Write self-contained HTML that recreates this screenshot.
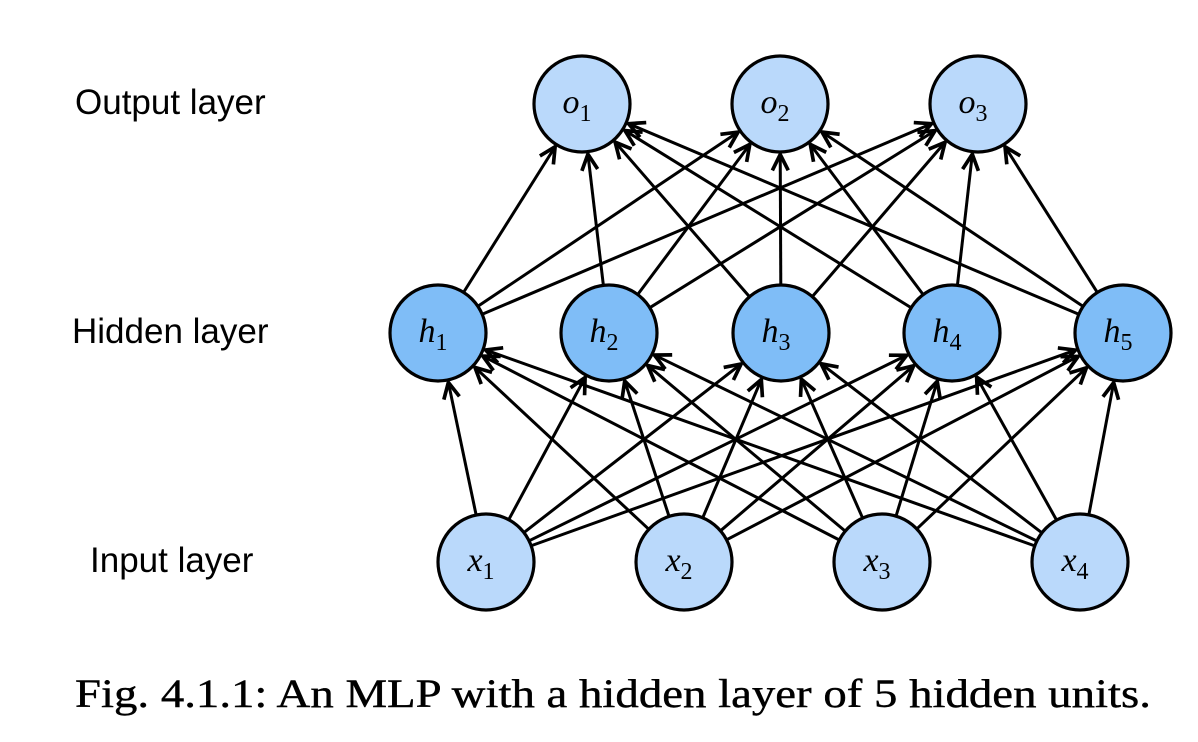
<!DOCTYPE html>
<html><head><meta charset="utf-8"><style>
html,body{margin:0;padding:0;background:#fff;}
body{width:1198px;height:742px;overflow:hidden;position:relative;}
.lbl{position:absolute;font-family:"Liberation Sans",sans-serif;font-size:35px;color:#000;line-height:40px;}
.cap{position:absolute;left:75px;top:670px;white-space:nowrap;font-family:"Liberation Serif","DejaVu Serif",serif;font-size:40px;color:#000;transform-origin:0 0;transform:scaleX(1.17);-webkit-text-stroke:0.4px #000;}
</style></head><body>
<div class="lbl" style="left:75px;top:83px">Output layer</div>
<div class="lbl" style="left:72px;top:312px">Hidden layer</div>
<div class="lbl" style="left:90px;top:541px">Input layer</div>
<svg id="s" width="1198" height="742" style="position:absolute;left:0;top:0">
<defs><marker id="a" markerWidth="22" markerHeight="22" refX="0" refY="0" viewBox="-15 -9 17 18" orient="auto" markerUnits="userSpaceOnUse">
<path d="M-13,-6.5 L0,0 L-13,6.5" fill="none" stroke="#000" stroke-width="3"/></marker></defs>
<g id="lines"></g>
<g id="nodes" stroke="#000" stroke-width="3.2">
<circle cx="582" cy="104" r="48" fill="#bad9fb"/>
<circle cx="780" cy="104" r="48" fill="#bad9fb"/>
<circle cx="978" cy="104" r="48" fill="#bad9fb"/>
<circle cx="438" cy="333" r="48" fill="#7fbdf7"/>
<circle cx="609" cy="333" r="48" fill="#7fbdf7"/>
<circle cx="781" cy="333" r="48" fill="#7fbdf7"/>
<circle cx="952" cy="333" r="48" fill="#7fbdf7"/>
<circle cx="1123" cy="333" r="48" fill="#7fbdf7"/>
<circle cx="486" cy="562" r="48" fill="#bad9fb"/>
<circle cx="684" cy="562" r="48" fill="#bad9fb"/>
<circle cx="882" cy="562" r="48" fill="#bad9fb"/>
<circle cx="1080" cy="562" r="48" fill="#bad9fb"/>
</g>
<g font-family="Liberation Serif,serif" font-style="italic" font-size="34" text-anchor="middle">
<text x="577" y="113">o<tspan font-style="normal" font-size="24" dy="8">1</tspan></text>
<text x="775" y="113">o<tspan font-style="normal" font-size="24" dy="8">2</tspan></text>
<text x="973" y="113">o<tspan font-style="normal" font-size="24" dy="8">3</tspan></text>
<text x="433" y="342">h<tspan font-style="normal" font-size="24" dy="8">1</tspan></text>
<text x="604" y="342">h<tspan font-style="normal" font-size="24" dy="8">2</tspan></text>
<text x="776" y="342">h<tspan font-style="normal" font-size="24" dy="8">3</tspan></text>
<text x="947" y="342">h<tspan font-style="normal" font-size="24" dy="8">4</tspan></text>
<text x="1118" y="342">h<tspan font-style="normal" font-size="24" dy="8">5</tspan></text>
<text x="481" y="571">x<tspan font-style="normal" font-size="24" dy="8">1</tspan></text>
<text x="679" y="571">x<tspan font-style="normal" font-size="24" dy="8">2</tspan></text>
<text x="877" y="571">x<tspan font-style="normal" font-size="24" dy="8">3</tspan></text>
<text x="1075" y="571">x<tspan font-style="normal" font-size="24" dy="8">4</tspan></text>
</g>
</svg>
<div class="cap">Fig. 4.1.1: An MLP with a hidden layer of 5 hidden units.</div>
<script>
var O=[[582,104],[780,104],[978,104]],H=[[438,333],[609,333],[781,333],[952,333],[1123,333]],X=[[486,562],[684,562],[882,562],[1080,562]];
var g=document.getElementById('lines'),r=48,s='';
function L(a,b){var dx=b[0]-a[0],dy=b[1]-a[1],d=Math.hypot(dx,dy),ux=dx/d,uy=dy/d;
s+='<line x1="'+(a[0]+ux*r)+'" y1="'+(a[1]+uy*r)+'" x2="'+(b[0]-ux*(r+2.5))+'" y2="'+(b[1]-uy*(r+2.5))+'" stroke="#000" stroke-width="3" marker-end="url(#a)"/>';}
X.forEach(function(a){H.forEach(function(b){L(a,b);});});
H.forEach(function(a){O.forEach(function(b){L(a,b);});});
g.innerHTML=s;
</script>
</body></html>
